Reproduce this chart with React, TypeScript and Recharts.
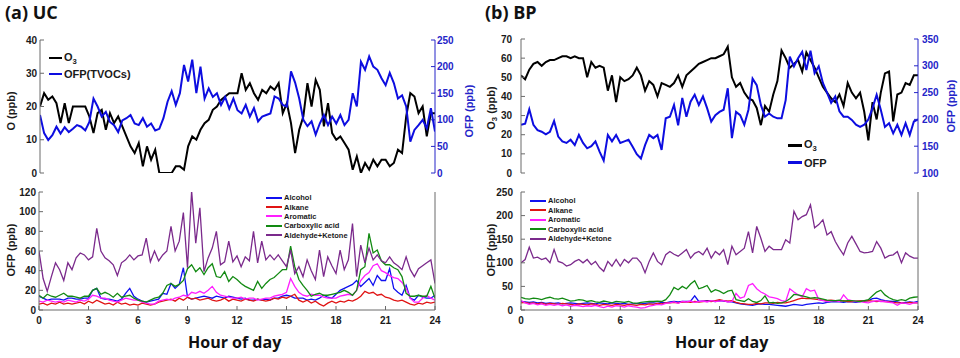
import React from 'react'
import { LineChart, Line, XAxis, YAxis, Legend } from 'recharts'

// every series is sampled every 0.25 h, 0..24 h (97 values)
const HOUR_TICKS = [0, 3, 6, 9, 12, 15, 18, 21, 24]

//* (a) UC, top panel
const ucO3 = [
  20, 24, 22, 23, 21, 15, 21, 15, 20, 20, 20, 20, 17, 12, 18, 19,
  13, 18, 15, 17, 14, 11, 8, 6, 9, 2, 8, 4, 7, 0, 0, 0,
  0, 2, 2, 1, 8, 11, 10, 13, 15, 16, 19, 20, 22, 23, 24, 24,
  24, 30, 25, 27, 24, 22, 25, 24, 26, 25, 27, 18, 21, 15, 6, 13,
  17, 27, 20, 28, 25, 14, 21, 12, 10, 11, 9, 7, 1, 5, 0, 3,
  1, 4, 2, 4, 4, 2, 3, 7, 6, 17, 24, 23, 18, 20, 11, 18,
  18,
]
const ucOfp = [
  109, 75, 62, 71, 87, 74, 86, 77, 83, 90, 87, 80, 96, 140, 125, 106,
  115, 96, 90, 77, 99, 103, 109, 93, 90, 103, 87, 93, 80, 83, 103, 134,
  154, 128, 150, 203, 172, 213, 150, 200, 140, 159, 143, 150, 128, 143, 121, 140,
  118, 112, 128, 106, 122, 97, 106, 109, 112, 144, 140, 128, 125, 191, 170, 140,
  100, 88, 97, 72, 93, 109, 90, 106, 93, 109, 90, 100, 150, 125, 209, 194,
  219, 200, 194, 178, 165, 188, 169, 140, 146, 125, 59, 81, 90, 100, 84, 122,
  78,
]

//* (a) UC, bottom panel
const ucAlcohol = [
  14, 12, 10, 11, 11, 11, 10, 12, 12, 11, 11, 12, 12, 20, 22, 12,
  11, 11, 10, 9, 11, 17, 22, 14, 11, 9, 8, 9, 10, 11, 17, 16,
  27, 22, 26, 43, 13, 11, 12, 13, 14, 13, 12, 14, 13, 12, 14, 13,
  12, 11, 12, 10, 10, 11, 10, 11, 10, 12, 12, 14, 15, 14, 12, 12,
  12, 10, 11, 10, 12, 15, 13, 12, 16, 20, 22, 24, 26, 30, 24, 28,
  32, 25, 35, 30, 30, 42, 22, 18, 15, 25, 12, 10, 15, 13, 12, 12,
  15,
]
const ucAlkane = [
  6, 7, 5, 7, 6, 8, 6, 7, 6, 7, 8, 6, 9, 7, 10, 8,
  6, 7, 5, 8, 6, 7, 5, 6, 5, 7, 6, 5, 6, 8, 9, 10,
  11, 9, 12, 10, 13, 11, 12, 10, 11, 12, 10, 9, 10, 12, 9, 11,
  10, 9, 11, 10, 9, 11, 10, 9, 10, 12, 11, 13, 12, 14, 16, 10,
  8, 10, 7, 9, 6, 4, 7, 9, 7, 9, 8, 10, 9, 11, 14, 19,
  17, 18, 15, 16, 13, 12, 10, 9, 10, 8, 6, 5, 7, 6, 8, 7,
  8,
]
const ucAromatic = [
  9, 8, 10, 9, 8, 9, 8, 10, 9, 8, 10, 9, 11, 15, 14, 12,
  12, 10, 9, 8, 10, 12, 11, 10, 10, 8, 7, 6, 6, 9, 10, 11,
  10, 12, 13, 15, 14, 18, 17, 19, 17, 20, 24, 18, 15, 14, 13, 12,
  12, 13, 11, 12, 12, 10, 11, 12, 12, 14, 15, 16, 18, 32, 24, 18,
  15, 14, 16, 15, 15, 13, 12, 12, 12, 14, 15, 16, 15, 20, 30, 35,
  38, 45, 47, 40, 38, 35, 33, 32, 28, 22, 12, 8, 8, 12, 15, 12,
  10,
]
const ucCarboxylic = [
  15, 12, 16, 14, 13, 15, 17, 14, 14, 13, 12, 14, 14, 20, 22, 16,
  18, 16, 13, 17, 13, 14, 15, 12, 10, 9, 8, 10, 12, 13, 17, 25,
  27, 24, 26, 30, 42, 46, 39, 43, 36, 43, 47, 34, 33, 39, 29, 34,
  31, 27, 24, 22, 20, 29, 22, 27, 31, 33, 37, 41, 41, 65, 44, 31,
  25, 20, 14, 16, 17, 15, 15, 16, 17, 18, 20, 18, 15, 20, 41, 44,
  78, 58, 61, 50, 46, 46, 43, 41, 34, 17, 14, 14, 15, 14, 14, 24,
  12,
]
const ucAldehyde = [
  60, 32, 19, 34, 48, 41, 30, 48, 41, 53, 58, 56, 51, 54, 83, 60,
  53, 50, 46, 35, 48, 51, 56, 51, 55, 56, 73, 49, 60, 50, 56, 60,
  85, 60, 70, 99, 43, 121, 68, 104, 39, 53, 63, 80, 46, 49, 70, 49,
  55, 44, 54, 50, 80, 48, 70, 51, 56, 51, 56, 50, 44, 61, 37, 44,
  34, 51, 40, 31, 61, 34, 54, 45, 37, 61, 41, 51, 88, 34, 66, 48,
  63, 51, 56, 50, 48, 54, 48, 45, 41, 54, 41, 34, 42, 45, 48, 51,
  27,
]

//* (b) BP, top panel
const bpO3 = [
  51, 49, 54, 57, 58, 56, 58, 59, 59, 60, 61, 61, 60, 61, 60, 60,
  50, 58, 55, 56, 55, 43, 51, 37, 50, 48, 49, 51, 55, 51, 43, 48,
  46, 40, 47, 46, 45, 47, 51, 45, 51, 53, 55, 57, 58, 59, 60, 60,
  61, 62, 66, 50, 45, 47, 42, 39, 38, 34, 25, 35, 32, 41, 48, 64,
  60, 55, 57, 59, 53, 63, 59, 55, 50, 45, 42, 39, 37, 41, 35, 47,
  42, 39, 42, 32, 17, 37, 28, 42, 52, 53, 27, 41, 42, 47, 46, 51,
  51,
]
const bpOfp = [
  190, 192, 219, 190, 180, 177, 172, 177, 197, 168, 159, 156, 162, 152, 171, 156,
  146, 150, 159, 140, 123, 171, 159, 171, 156, 159, 162, 149, 135, 127, 152, 171,
  165, 171, 143, 202, 205, 227, 189, 240, 205, 233, 246, 227, 243, 221, 196, 208,
  214, 218, 258, 165, 214, 208, 190, 218, 276, 264, 227, 205, 211, 205, 202, 202,
  236, 317, 299, 314, 326, 292, 328, 286, 299, 268, 250, 231, 243, 215, 205, 205,
  199, 190, 186, 190, 200, 221, 246, 218, 186, 193, 174, 190, 171, 193, 171, 196,
  200,
]

//* (b) BP, bottom panel
const bpAlcohol = [
  18, 17, 16, 17, 15, 16, 14, 15, 14, 15, 13, 14, 15, 14, 13, 14,
  15, 14, 13, 15, 14, 13, 15, 14, 13, 14, 12, 13, 14, 13, 14, 15,
  15, 14, 16, 15, 17, 18, 17, 18, 18, 19, 30, 18, 19, 20, 19, 18,
  20, 19, 18, 17, 15, 13, 12, 11, 10, 12, 13, 12, 12, 11, 10, 9,
  8, 10, 12, 11, 10, 12, 13, 14, 15, 14, 16, 17, 18, 17, 16, 18,
  17, 16, 18, 19, 20, 24, 25, 22, 20, 19, 18, 17, 15, 16, 17, 16,
  18,
]
const bpAlkane = [
  15, 16, 14, 15, 13, 15, 12, 14, 13, 12, 14, 13, 12, 11, 13, 12,
  11, 13, 12, 10, 12, 11, 10, 12, 11, 10, 12, 11, 10, 12, 11, 13,
  12, 14, 13, 15, 15, 16, 15, 17, 17, 16, 18, 17, 18, 19, 18, 20,
  22, 20, 19, 20, 16, 14, 13, 12, 12, 14, 13, 15, 15, 14, 16, 15,
  15, 17, 20, 23, 25, 24, 24, 23, 22, 21, 20, 21, 20, 19, 20, 18,
  18, 19, 20, 19, 20, 19, 18, 19, 18, 17, 16, 15, 15, 14, 16, 15,
  15,
]
const bpAromatic = [
  20, 15, 12, 14, 11, 13, 10, 12, 10, 12, 9, 11, 8, 10, 9, 7,
  9, 8, 10, 7, 5, 8, 6, 9, 8, 6, 9, 7, 6, 4, 5, 8,
  10, 12, 11, 14, 15, 17, 14, 18, 17, 19, 16, 18, 19, 17, 20, 18,
  19, 20, 17, 18, 35, 25, 28, 52, 56, 45, 38, 34, 28, 26, 24, 20,
  18, 45, 38, 32, 28, 45, 40, 42, 22, 20, 18, 19, 20, 18, 32, 22,
  20, 18, 18, 16, 15, 18, 20, 18, 18, 16, 15, 10, 15, 14, 12, 15,
  15,
]
const bpCarboxylic = [
  27, 24, 23, 25, 24, 22, 25, 27, 24, 23, 25, 22, 19, 20, 22, 21,
  18, 20, 17, 16, 19, 17, 15, 18, 17, 16, 18, 15, 14, 16, 17, 18,
  18, 19, 18, 22, 32, 48, 43, 50, 45, 55, 62, 45, 48, 52, 38, 43,
  40, 35, 40, 42, 22, 20, 18, 24, 18, 16, 20, 30, 15, 16, 14, 15,
  18, 24, 33, 32, 30, 28, 25, 26, 25, 23, 21, 20, 20, 21, 19, 20,
  20, 19, 18, 20, 22, 30, 38, 42, 32, 26, 22, 20, 22, 20, 25, 27,
  28,
]
const bpAldehyde = [
  100, 107, 133, 110, 112, 107, 110, 100, 128, 103, 100, 93, 96, 103, 107, 100,
  107, 96, 103, 90, 82, 103, 93, 107, 93, 107, 100, 110, 110, 100, 79, 103,
  121, 103, 96, 117, 124, 118, 114, 121, 128, 110, 120, 124, 117, 131, 110, 124,
  117, 128, 96, 135, 117, 124, 131, 166, 121, 177, 152, 124, 135, 128, 128, 128,
  149, 142, 209, 191, 198, 202, 223, 174, 181, 191, 159, 166, 145, 130, 117, 142,
  156, 140, 124, 121, 122, 124, 145, 131, 110, 115, 117, 124, 100, 121, 114, 110,
  110,
]

const SANS = '"Liberation Sans", Arial, sans-serif'
const HEAD = '"Open Sans", "Liberation Sans", sans-serif'
const FRAME = '#6a6a6a'
const TXT = '#1a1a1a'
const BLUE = '#0d0de0'
const RIGHT_BLUE = '#2424c8'

const C_ALC = '#1010f0'
const C_ALK = '#e01414'
const C_ARO = '#ff1eff'
const C_CAR = '#128a12'
const C_ALD = '#7b2a8c'

type Series = { name: string; values: number[]; color: string; width: number; axis: 'left' | 'right' }
type KeyItem = { label: React.ReactNode; color: string }

const toPoints = (values: number[]) => values.map((v, i) => ({ h: i * 0.25, v }))

const tickFont = { fill: TXT, fontSize: 10, fontWeight: 700, fontFamily: SANS }

function KeyBox({ items, fontSize, rowH, lineLen, lineW }: { items: KeyItem[]; fontSize: number; rowH: number; lineLen: number; lineW: number }) {
  return (
    <div style={{ fontFamily: SANS, fontSize, fontWeight: 700, color: TXT }}>
      {items.map((it, i) => (
        <div key={i} style={{ display: 'flex', alignItems: 'center', height: rowH, whiteSpace: 'nowrap' }}>
          <span style={{ display: 'inline-block', width: lineLen, height: lineW, background: it.color, marginRight: 2 }} />
          <span>{it.label}</span>
        </div>
      ))}
    </div>
  )
}

interface PanelProps {
  x: number
  y: number
  w: number
  h: number
  margin: { top: number; right: number; bottom: number; left: number }
  leftW: number
  rightW: number
  leftDomain: number[]
  leftTicks: number[]
  leftGap: number
  rightDomain: number[]
  rightTicks: number[]
  rightGap: number
  rightLabels: boolean
  hours: boolean
  series: Series[]
  keyItems: KeyItem[]
  keyPos: { left: number; top: number }
  keyFont: number
  keyRow: number
  keyLine: number
  keyLineW: number
}

function Panel(p: PanelProps) {
  const rightColor = p.rightLabels ? RIGHT_BLUE : FRAME
  return (
    <div style={{ position: 'absolute', left: p.x, top: p.y }}>
      <LineChart width={p.w} height={p.h} margin={p.margin}>
        <XAxis
          dataKey="h" type="number" domain={[0, 24]} ticks={HOUR_TICKS} interval={0} allowDataOverflow
          height={p.hours ? 20 : 0} tick={p.hours ? tickFont : false} tickSize={-4} tickMargin={11}
          axisLine={{ stroke: FRAME }} tickLine={{ stroke: FRAME }}
        />
        <XAxis
          xAxisId="top" orientation="top" dataKey="h" type="number" domain={[0, 24]} ticks={HOUR_TICKS}
          interval={0} allowDataOverflow height={0} tick={false} tickSize={-4}
          axisLine={{ stroke: FRAME }} tickLine={{ stroke: FRAME }}
        />
        <YAxis
          yAxisId="left" type="number" domain={p.leftDomain} ticks={p.leftTicks} interval={0} allowDataOverflow
          width={p.leftW} tick={tickFont} tickSize={-4} tickMargin={p.leftGap}
          axisLine={{ stroke: FRAME }} tickLine={{ stroke: FRAME }}
        />
        <YAxis
          yAxisId="right" orientation="right" type="number" domain={p.rightDomain} ticks={p.rightTicks}
          interval={0} allowDataOverflow width={p.rightW}
          tick={p.rightLabels ? { ...tickFont, fill: RIGHT_BLUE } : false} tickSize={-4} tickMargin={p.rightGap}
          axisLine={{ stroke: rightColor }} tickLine={{ stroke: rightColor }}
        />
        {p.series.map((s) => (
          <Line
            key={s.name} data={toPoints(s.values)} dataKey="v" yAxisId={s.axis} type="linear"
            stroke={s.color} strokeWidth={s.width} dot={false} isAnimationActive={false}
          />
        ))}
        <Legend
          layout="vertical" align="center" verticalAlign="middle"
          wrapperStyle={{ left: p.keyPos.left, top: p.keyPos.top, width: 'auto', height: 'auto' }}
          content={() => <KeyBox items={p.keyItems} fontSize={p.keyFont} rowH={p.keyRow} lineLen={p.keyLine} lineW={p.keyLineW} />}
        />
      </LineChart>
    </div>
  )
}

function VLabel({ x, y, color, children }: { x: number; y: number; color?: string; children: React.ReactNode }) {
  return (
    <div style={{
      position: 'absolute', left: x, top: y, transform: 'translate(-50%, -50%) rotate(-90deg)',
      fontFamily: SANS, fontSize: 11, fontWeight: 700, color: color || TXT, whiteSpace: 'nowrap',
    }}>
      {children}
    </div>
  )
}

function Text({ x, y, size, children }: { x: number; y: number; size: number; children: React.ReactNode }) {
  return (
    <div style={{ position: 'absolute', left: x, top: y, fontFamily: HEAD, fontSize: size, fontWeight: 700, color: '#111', whiteSpace: 'nowrap' }}>
      {children}
    </div>
  )
}

const O3 = <span>O<sub style={{ fontSize: '0.7em', verticalAlign: '-0.35em' }}>3</sub></span>

const lowerKey = (values: number[][]): Series[] => [
  { name: 'Alcohol', values: values[0], color: C_ALC, width: 1.3, axis: 'left' },
  { name: 'Alkane', values: values[1], color: C_ALK, width: 1.3, axis: 'left' },
  { name: 'Aromatic', values: values[2], color: C_ARO, width: 1.3, axis: 'left' },
  { name: 'Carboxylic acid', values: values[3], color: C_CAR, width: 1.3, axis: 'left' },
  { name: 'Aldehyde+Ketone', values: values[4], color: C_ALD, width: 1.3, axis: 'left' },
]
const lowerItems: KeyItem[] = [
  { label: 'Alcohol', color: C_ALC },
  { label: 'Alkane', color: C_ALK },
  { label: 'Aromatic', color: C_ARO },
  { label: 'Carboxylic acid', color: C_CAR },
  { label: 'Aldehyde+Ketone', color: C_ALD },
]

export default function App() {
  return (
    <div style={{ position: 'absolute', left: 0, top: 0, width: 960, height: 358, background: '#fff', overflow: 'hidden' }}>
      <Text x={5} y={0} size={18}>(a) UC</Text>
      <Text x={485} y={0} size={18}>(b) BP</Text>

      <Panel
        x={0} y={0} w={480} h={180} margin={{ top: 40, right: 0, bottom: 7, left: 0 }}
        leftW={40} rightW={45} leftDomain={[0, 40]} leftTicks={[0, 10, 20, 30, 40]} leftGap={7}
        rightDomain={[0, 250]} rightTicks={[0, 50, 100, 150, 200, 250]} rightGap={6} rightLabels hours={false}
        series={[
          { name: 'O3', values: ucO3, color: '#000', width: 2, axis: 'left' },
          { name: 'OFP', values: ucOfp, color: BLUE, width: 2, axis: 'right' },
        ]}
        keyItems={[{ label: O3, color: '#000' }, { label: 'OFP(TVOCs)', color: BLUE }]}
        keyPos={{ left: 49, top: 50 }} keyFont={11} keyRow={16} keyLine={13} keyLineW={2.5}
      />
      <Panel
        x={0} y={180} w={480} h={178} margin={{ top: 12, right: 40, bottom: 28, left: 0 }}
        leftW={39} rightW={5} leftDomain={[0, 120]} leftTicks={[0, 20, 40, 60, 80, 100, 120]} leftGap={7}
        rightDomain={[0, 120]} rightTicks={[0, 20, 40, 60, 80, 100, 120]} rightGap={4} rightLabels={false} hours
        series={lowerKey([ucAlcohol, ucAlkane, ucAromatic, ucCarboxylic, ucAldehyde])}
        keyItems={lowerItems}
        keyPos={{ left: 266, top: 13 }} keyFont={7.5} keyRow={9.4} keyLine={16} keyLineW={2}
      />

      <Panel
        x={480} y={0} w={480} h={180} margin={{ top: 39, right: 0, bottom: 7, left: 0 }}
        leftW={41} rightW={42} leftDomain={[0, 70]} leftTicks={[0, 10, 20, 30, 40, 50, 60, 70]} leftGap={13}
        rightDomain={[100, 350]} rightTicks={[100, 150, 200, 250, 300, 350]} rightGap={8} rightLabels hours={false}
        series={[
          { name: 'O3', values: bpO3, color: '#000', width: 2, axis: 'left' },
          { name: 'OFP', values: bpOfp, color: BLUE, width: 2, axis: 'right' },
        ]}
        keyItems={[{ label: O3, color: '#000' }, { label: 'OFP', color: BLUE }]}
        keyPos={{ left: 308, top: 137 }} keyFont={11} keyRow={17} keyLine={14} keyLineW={2.5}
      />
      <Panel
        x={480} y={180} w={480} h={178} margin={{ top: 12, right: 37, bottom: 28, left: 0 }}
        leftW={41} rightW={5} leftDomain={[0, 250]} leftTicks={[0, 50, 100, 150, 200, 250]} leftGap={12}
        rightDomain={[0, 250]} rightTicks={[0, 50, 100, 150, 200, 250]} rightGap={4} rightLabels={false} hours
        series={lowerKey([bpAlcohol, bpAlkane, bpAromatic, bpCarboxylic, bpAldehyde])}
        keyItems={lowerItems}
        keyPos={{ left: 50, top: 16 }} keyFont={7.5} keyRow={9.5} keyLine={16} keyLineW={2}
      />

      <VLabel x={11} y={111}>O (ppb)</VLabel>
      <VLabel x={469} y={111} color={RIGHT_BLUE}>OFP (ppb)</VLabel>
      <VLabel x={11} y={250}>OFP (ppb)</VLabel>
      <VLabel x={492} y={108}>{O3} (ppb)</VLabel>
      <VLabel x={951} y={106} color={RIGHT_BLUE}>OFP (ppb)</VLabel>
      <VLabel x={491} y={250}>OFP (ppb)</VLabel>

      <Text x={188} y={331} size={16}>Hour of day</Text>
      <Text x={675} y={331} size={16}>Hour of day</Text>
    </div>
  )
}
